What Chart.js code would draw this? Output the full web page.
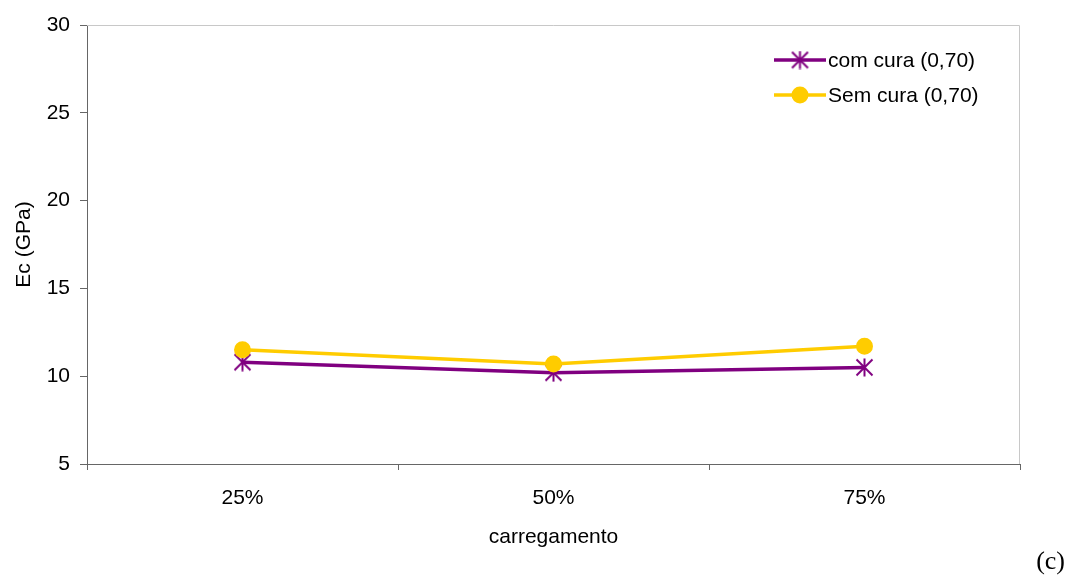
<!DOCTYPE html>
<html>
<head>
<meta charset="utf-8">
<script src="https://cdn.jsdelivr.net/npm/chart.js@4/dist/chart.umd.min.js"></script>
<style>
  html, body { margin: 0; padding: 0; background: #fff; }
  #wrap { width: 1067px; height: 579px; position: relative; }
</style>
</head>
<body>
<div id="wrap"><canvas id="chart" width="1067" height="579"></canvas></div>
<script>
// data
const categories = ["25%", "50%", "75%"];
const comCura = [10.8, 10.2, 10.5];
const semCura = [11.5, 10.7, 11.7];
const seriesNames = ["com cura (0,70)", "Sem cura (0,70)"];
const yTicks = [5, 10, 15, 20, 25, 30];

const purple = "#800080";
const yellow = "#FFCC00";
const axisColor = "#666666";
const fontFamily = "'Liberation Sans', Arial, sans-serif";

//star marker like excel (X with vertical bar)
function makeStar(color) {
  const c = document.createElement("canvas");
  c.width = 19; c.height = 19;
  const g = c.getContext("2d");
  g.strokeStyle = color;
  g.lineWidth = 2;
  g.beginPath();
  g.moveTo(1.5, 1.5); g.lineTo(17.5, 17.5);
  g.moveTo(17.5, 1.5); g.lineTo(1.5, 17.5);
  g.moveTo(9.5, 0.5); g.lineTo(9.5, 18.5);
  g.stroke();
  return c;
}
const star = makeStar(purple);

//light frame on top and right of plot, legend, and the (c) label
const extras = {
  id: "extras",
  beforeDatasetsDraw(chart) {
    const { ctx, chartArea: a } = chart;
    ctx.save();
    ctx.strokeStyle = "#c8c8c8";
    ctx.lineWidth = 1;
    ctx.beginPath();
    ctx.moveTo(a.left, a.top + 0.5);
    ctx.lineTo(a.right - 0.5, a.top + 0.5);
    ctx.lineTo(a.right - 0.5, a.bottom);
    ctx.stroke();
    ctx.restore();
  },
  afterDraw(chart) {
    const ctx = chart.ctx;
    ctx.save();
    const rows = [
      { y: 60, color: purple, style: star, radius: 9, name: seriesNames[0] },
      { y: 95, color: yellow, style: "circle", radius: 7.5, name: seriesNames[1] }
    ];
    rows.forEach(r => {
      ctx.strokeStyle = r.color;
      ctx.lineWidth = 3.5;
      ctx.beginPath();
      ctx.moveTo(774, r.y);
      ctx.lineTo(826, r.y);
      ctx.stroke();
      ctx.fillStyle = r.color;
      ctx.lineWidth = 2;
      Chart.helpers.drawPoint(ctx, { pointStyle: r.style, radius: r.radius, borderWidth: 2, rotation: 0 }, 800, r.y);
      ctx.fillStyle = "#000";
      ctx.font = "21px " + fontFamily;
      ctx.textAlign = "left";
      ctx.textBaseline = "middle";
      ctx.fillText(r.name, 828, r.y + 1);
    });
    ctx.font = "26px 'Liberation Serif', 'Times New Roman', serif";
    ctx.textAlign = "right";
    ctx.textBaseline = "middle";
    ctx.fillText("(c)", 1065, 562);
    ctx.restore();
  }
};

new Chart(document.getElementById("chart"), {
  type: "line",
  plugins: [extras],
  data: {
    labels: categories,
    datasets: [
      {
        label: seriesNames[0],
        data: comCura,
        borderColor: purple,
        backgroundColor: purple,
        borderWidth: 3.5,
        pointStyle: star,
        pointRadius: 9,
        order: 1
      },
      {
        label: seriesNames[1],
        data: semCura,
        borderColor: yellow,
        backgroundColor: yellow,
        borderWidth: 3.5,
        pointStyle: "circle",
        pointRadius: 7.5,
        pointBorderWidth: 2,
        order: 0
      }
    ]
  },
  options: {
    responsive: false,
    animation: false,
    layout: { padding: { top: 25, right: 47, left: 0, bottom: 0 } },
    plugins: {
      legend: { display: false },
      tooltip: { enabled: false }
    },
    scales: {
      x: {
        offset: true,
        grid: { offset: true, drawOnChartArea: false, drawTicks: true, tickLength: 6, color: axisColor },
        border: { color: axisColor, width: 1 },
        ticks: { color: "#000", padding: 16, maxRotation: 0, font: { size: 21, family: fontFamily } },
        title: { display: true, text: "carregamento", color: "#000", padding: { top: 0, bottom: 29 }, font: { size: 21, family: fontFamily } },
        afterFit(scale) { scale.height = 115; }
      },
      y: {
        min: 5,
        max: 30,
        afterBuildTicks(scale) { scale.ticks = yTicks.map(v => ({ value: v })); },
        grid: { drawOnChartArea: false, drawTicks: true, tickLength: 7, color: axisColor },
        border: { color: axisColor, width: 1 },
        ticks: { color: "#000", padding: 10, font: { size: 21, family: fontFamily } },
        title: { display: true, text: "Ec (GPa)", color: "#000", padding: { top: 12, bottom: 0 }, font: { size: 21, family: fontFamily } },
        afterFit(scale) { scale.width = 87; }
      }
    }
  }
});
</script>
</body>
</html>
